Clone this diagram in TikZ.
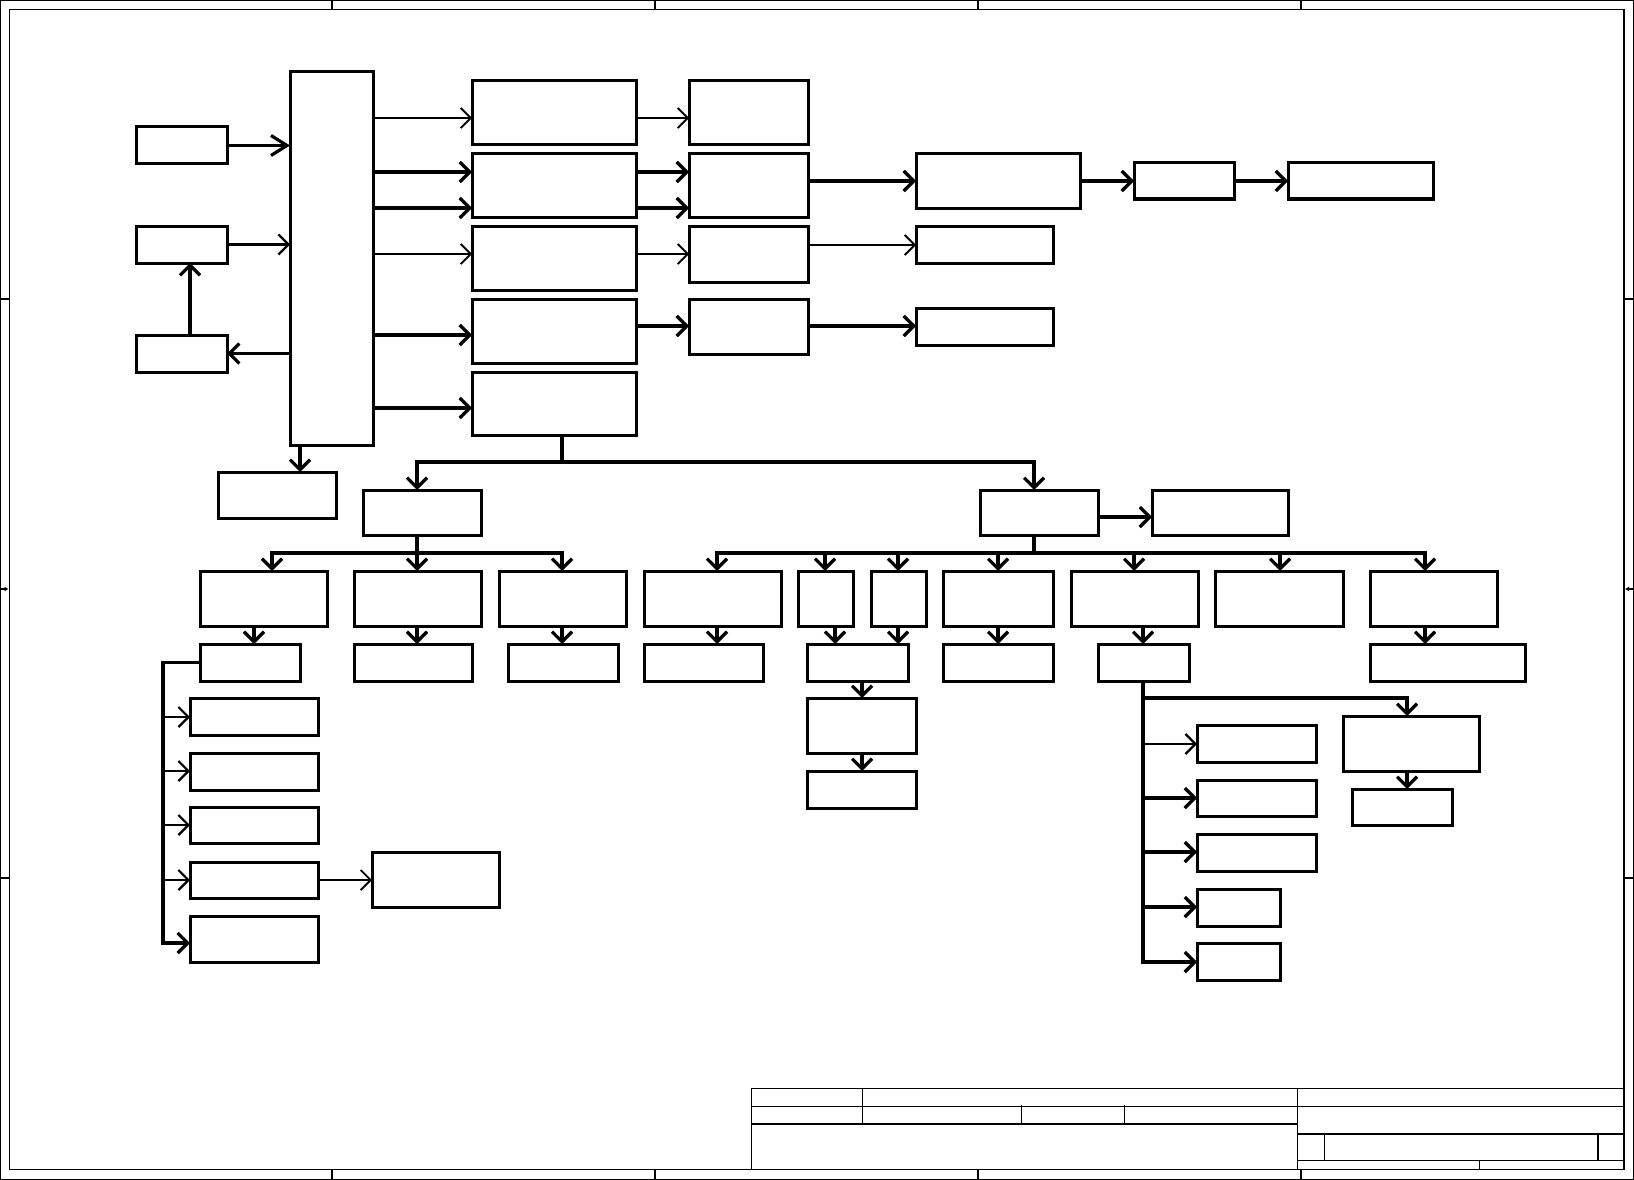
\documentclass[tikz,border=0pt]{standalone}
\usetikzlibrary{arrows.meta}
\newcommand\mkbox[5]{\node[box,minimum width={#4-#2},minimum height={#5-#3}] (#1) at (#2,#3) {};}
\begin{document}
\begin{tikzpicture}[x=1pt,y=-1pt,
  box/.style={draw,line width=3pt,inner sep=0pt,outer sep=0pt,anchor=north west},
  thn/.style={line width=1.8pt},
  thk/.style={line width=3.2pt},
  arr/.style={-{Straight Barb[length=10pt,width=20pt]}},
  bigarr/.style={-{Straight Barb[length=16pt,width=20pt]}},
  frm/.style={line width=1.2pt},
  tb/.style={line width=1.4pt}]
\useasboundingbox (0,0) rectangle (1634,1180);
% frame
\draw[frm] (0.6,0.6) rectangle (1633.4,1179.4);
\draw[frm] (9.3,9.3) rectangle (1624,1169.3);
\foreach \xx in {332,655,978,1301}{
  \draw[frm] (\xx,0.6) -- (\xx,9.3);
  \draw[frm] (\xx,1169.3) -- (\xx,1179.4);}
\foreach \yy in {299,878}{
  \draw[frm] (0.6,\yy) -- (9.3,\yy);
  \draw[frm] (1624,\yy) -- (1633.4,\yy);}
\draw[frm,-{Latex[length=4pt,width=5pt]}] (0.6,589) -- (8.5,589);
\draw[frm,-{Latex[length=4pt,width=5pt]}] (1633.4,589) -- (1625,589);
% title block
\draw[tb] (751.4,1088.7) rectangle (1624,1169.3);
\draw[tb] (751.4,1106.7) -- (1624,1106.7);
\draw[tb] (751.4,1124) -- (1297.6,1124);
\draw[tb] (1297.6,1134) -- (1624,1134);
\draw[tb] (1297.6,1160.7) -- (1624,1160.7);
\draw[tb] (862.6,1088.7) -- (862.6,1124);
\draw[line width=1pt] (1021,1105) -- (1021,1124);
\draw[line width=1pt] (1124.8,1105) -- (1124.8,1124);
\draw[tb] (1297.6,1088.7) -- (1297.6,1169.3);
\draw[tb] (1324.4,1134) -- (1324.4,1160.7);
\draw[tb] (1598,1134) -- (1598,1160.7);
\draw[tb] (1479.5,1160.7) -- (1479.5,1169.3);
% boxes
\mkbox{A1}{136}{127}{227}{164}
\mkbox{A2}{136}{226}{227}{263}
\mkbox{A3}{136}{335}{227}{372}
\mkbox{M}{290}{72}{373}{445}
\mkbox{B1}{472}{81}{636}{145}
\mkbox{B2}{472}{154}{636}{217}
\mkbox{B3}{472}{226}{636}{290}
\mkbox{B4}{472}{299}{636}{363}
\mkbox{B5}{472}{372}{636}{435}
\mkbox{E1}{689}{81}{808}{145}
\mkbox{E2}{689}{154}{808}{217}
\mkbox{E3}{689}{226}{808}{282}
\mkbox{E4}{689}{299}{808}{354}
\mkbox{F1}{916}{154}{1080}{208}
\mkbox{F2}{916}{226}{1053}{263}
\mkbox{F3}{916}{308}{1053}{345}
\mkbox{G1}{1134}{163}{1234}{199}
\mkbox{G2}{1288}{163}{1433}{199}
\mkbox{C}{218}{472}{336}{518}
\mkbox{D1}{363}{490}{481}{535}
\mkbox{D2}{980}{490}{1098}{535}
\mkbox{D3}{1152}{490}{1288}{535}
\mkbox{H1}{200}{571}{327}{626}
\mkbox{H2}{354}{571}{481}{626}
\mkbox{H3}{499}{571}{626}{626}
\mkbox{H4}{644}{571}{781}{626}
\mkbox{H5}{798}{571}{853}{626}
\mkbox{H6}{871}{571}{926}{626}
\mkbox{H7}{943}{571}{1053}{626}
\mkbox{H8}{1071}{571}{1198}{626}
\mkbox{H9}{1215}{571}{1343}{626}
\mkbox{H10}{1370}{571}{1497}{626}
\mkbox{I1}{200}{644}{300}{681}
\mkbox{I2}{354}{644}{472}{681}
\mkbox{I3}{508}{644}{618}{681}
\mkbox{I4}{644}{644}{763}{681}
\mkbox{I5}{807}{644}{908}{681}
\mkbox{I7}{943}{644}{1053}{681}
\mkbox{I8}{1098}{644}{1189}{681}
\mkbox{I10}{1370}{644}{1525}{681}
\mkbox{J1}{190}{698}{318}{735}
\mkbox{J2}{190}{753}{318}{790}
\mkbox{J3}{190}{807}{318}{843}
\mkbox{J4}{190}{862}{318}{898}
\mkbox{J5}{190}{916}{318}{962}
\mkbox{K}{372}{852}{499}{907}
\mkbox{L1}{807}{698}{916}{753}
\mkbox{L2}{807}{771}{916}{808}
\mkbox{P1}{1343}{716}{1479}{771}
\mkbox{P2}{1352}{789}{1452}{825}
\mkbox{N1}{1197}{725}{1316}{762}
\mkbox{N2}{1197}{780}{1316}{816}
\mkbox{N3}{1197}{834}{1316}{871}
\mkbox{N4}{1197}{889}{1280}{926}
\mkbox{N5}{1197}{943}{1280}{980}
% junction coordinates
\coordinate (j5) at (562,462);
\coordinate (jd1) at (417,553);
\coordinate (jd2) at (1034,553);
\coordinate (ji1) at (163,943);
\coordinate (ji8) at (1143,962);
\coordinate (jp) at (1143,698);
% left inputs
\draw[thk,bigarr] (A1.east) -- (A1.east -| M.west);
\draw[line width=2.2pt,arr] (A2.east) -- (A2.east -| M.west);
\draw[thk,arr] (M.west |- A3.east) -- (A3.east);
\draw[thk,arr] (A3.north -| 190,0) -- (A2.south -| 190,0);
% M to B
\draw[thn,arr] (M.east |- 0,118) -- (B1.west |- 0,118);
\draw[thk,arr] (M.east |- 0,172) -- (B2.west |- 0,172);
\draw[thk,arr] (M.east |- 0,208) -- (B2.west |- 0,208);
\draw[thn,arr] (M.east |- 0,254) -- (B3.west |- 0,254);
\draw[thk,arr] (M.east |- 0,335) -- (B4.west |- 0,335);
\draw[thk,arr] (M.east |- 0,408) -- (B5.west |- 0,408);
% B to E
\draw[thn,arr] (B1.east |- 0,118) -- (E1.west |- 0,118);
\draw[thk,arr] (B2.east |- 0,172) -- (E2.west |- 0,172);
\draw[thk,arr] (B2.east |- 0,208) -- (E2.west |- 0,208);
\draw[thn,arr] (B3.east |- 0,254) -- (E3.west |- 0,254);
\draw[thk,arr] (B4.east |- 0,326) -- (E4.west |- 0,326);
% E to F, G
\draw[thk,arr] (E2.east |- 0,181) -- (F1.west |- 0,181);
\draw[thn,arr] (E3.east |- 0,245) -- (F2.west |- 0,245);
\draw[thk,arr] (E4.east |- 0,326) -- (F3.west |- 0,326);
\draw[thk,arr] (F1.east |- 0,181) -- (G1.west |- 0,181);
\draw[thk,arr] (G1.east |- 0,181) -- (G2.west |- 0,181);
% M to C
\draw[thk,arr] (M.south -| 300,0) -- (C.north -| 300,0);
% B5 bus
\draw[thk] (B5.south -| j5) -- (j5);
\draw[thk,arr] (j5) -| (D1.north -| 417,0);
\draw[thk,arr] (j5) -| (D2.north -| 1034,0);
\draw[thk,arr] (D2.east |- 0,517) -- (D3.west |- 0,517);
% D1 bus
\draw[thk] (D1.south -| jd1) -- (jd1);
\draw[thk,arr] (jd1) -| (H1.north -| 272,0);
\draw[thk,arr] (jd1) -- (H2.north -| jd1);
\draw[thk,arr] (jd1) -| (H3.north -| 562,0);
% D2 bus
\draw[thk] (D2.south -| jd2) -- (jd2);
\draw[thk,arr] (jd2) -| (H4.north -| 717,0);
\draw[thk,arr] (jd2) -| (H5.north -| 825,0);
\draw[thk,arr] (jd2) -| (H6.north -| 898,0);
\draw[thk,arr] (jd2) -| (H7.north -| 998,0);
\draw[thk,arr] (jd2) -| (H8.north -| 1134,0);
\draw[thk,arr] (jd2) -| (H9.north -| 1280,0);
\draw[thk,arr] (jd2) -| (H10.north -| 1425,0);
% H to I
\draw[thk,arr] (H1.south -| 254,0) -- (I1.north -| 254,0);
\draw[thk,arr] (H2.south -| 417,0) -- (I2.north -| 417,0);
\draw[thk,arr] (H3.south -| 562,0) -- (I3.north -| 562,0);
\draw[thk,arr] (H4.south -| 717,0) -- (I4.north -| 717,0);
\draw[thk,arr] (H5.south -| 835,0) -- (I5.north -| 835,0);
\draw[thk,arr] (H6.south -| 898,0) -- (I5.north -| 898,0);
\draw[thk,arr] (H7.south -| 998,0) -- (I7.north -| 998,0);
\draw[thk,arr] (H8.south -| 1143,0) -- (I8.north -| 1143,0);
\draw[thk,arr] (H10.south -| 1425,0) -- (I10.north -| 1425,0);
\draw[thk,arr] (I5.south -| 862,0) -- (L1.north -| 862,0);
\draw[thk,arr] (L1.south -| 862,0) -- (L2.north -| 862,0);
% I1 bus
\draw[thk,arr] (I1.west) -| (ji1) -- (J5.west |- ji1);
\draw[line width=2.2pt,arr] (ji1 |- 0,717) -- (J1.west |- 0,717);
\draw[line width=2.2pt,arr] (ji1 |- 0,771) -- (J2.west |- 0,771);
\draw[line width=2.2pt,arr] (ji1 |- 0,825) -- (J3.west |- 0,825);
\draw[line width=2.2pt,arr] (ji1 |- 0,880) -- (J4.west |- 0,880);
\draw[thn,arr] (J4.east |- 0,880) -- (K.west |- 0,880);
% I8 bus
\draw[thk,arr] (I8.south -| ji8) -- (ji8) -- (N5.west |- ji8);
\draw[thk,arr] (jp) -| (P1.north -| 1407,0);
\draw[line width=2.2pt,arr] (ji8 |- 0,744) -- (N1.west |- 0,744);
\draw[thk,arr] (ji8 |- 0,798) -- (N2.west |- 0,798);
\draw[thk,arr] (ji8 |- 0,852) -- (N3.west |- 0,852);
\draw[thk,arr] (ji8 |- 0,907) -- (N4.west |- 0,907);
\draw[thk,arr] (P1.south -| 1407,0) -- (P2.north -| 1407,0);
\end{tikzpicture}
\end{document}
